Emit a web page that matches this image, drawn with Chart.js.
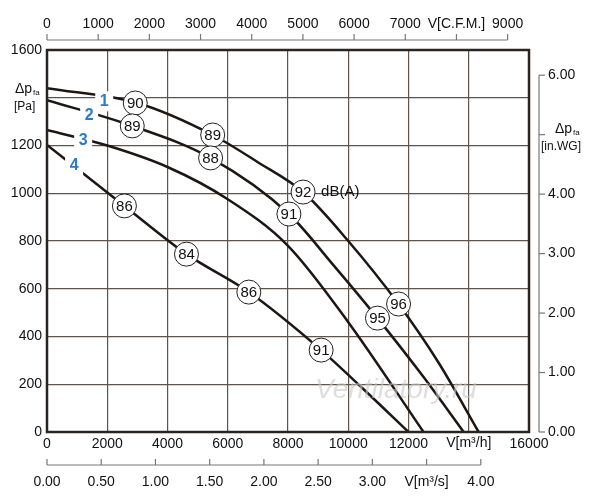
<!DOCTYPE html>
<html><head><meta charset="utf-8">
<script src="https://cdn.jsdelivr.net/npm/chart.js@4"></script>
<style>body{margin:0;background:#fff}#w{width:600px;height:500px}</style>
</head><body><div id="w"><canvas id="c"></canvas></div>
<script>
const curve1 = [[0,1440],[3000,1378],[5500,1244],[7000,1130],[8500,1005],[10000,800],[11670,536],[13000,290],[14330,0]];
const curve2 = [[0,1390],[2830,1282],[5430,1148],[8030,913],[9500,700],[10970,477],[12500,230],[13830,0]];
const curve3 = [[0,1265],[2000,1200],[4000,1110],[6000,975],[8000,780],[10000,460],[12500,0]];
const curve4 = [[0,1202],[2570,947],[4630,745],[6700,586],[9100,343],[10500,180],[12000,0]];
const curveNames = ['1','2','3','4'];
const curveNamePos = [[1900,1385],[1400,1325],[1200,1220],[900,1115]];
const dbLabels = [[2930,1378,'90'],[5500,1244,'89'],[8500,1005,'92'],[11670,536,'96'],
  [2830,1282,'89'],[5430,1148,'88'],[8030,913,'91'],[10970,477,'95'],
  [2570,947,'86'],[4630,745,'84'],[6700,586,'86'],[9100,343,'91']];
const cfmTicks = [0,1000,2000,3000,4000,5000,6000,7000,8000,9000];
const cfmLabels = ['0','1000','2000','3000','4000','5000','6000','7000','V[C.F.M.]','9000'];
const m3sTicks = [0,0.5,1,1.5,2,2.5,3,3.5,4];
const m3sLabels = ['0.00','0.50','1.00','1.50','2.00','2.50','3.00','V[m³/s]','4.00'];
const inwgTicks = [0,1,2,3,4,5,6];
const inwgLabels = ['0.00','1.00','2.00','3.00','4.00','','6.00'];
const toPts = a => a.map(p=>({x:p[0],y:p[1]}));
const F = 'Liberation Sans, Arial, sans-serif';
const deco = {
  id:'deco',
  afterDatasetsDraw(ch){
    const c=ch.ctx,x=ch.scales.x,y=ch.scales.y,a=ch.chartArea;
    c.save();
    c.font='bold 16px '+F;c.textAlign='center';c.textBaseline='middle';
    curveNames.forEach((n,i)=>{const px=x.getPixelForValue(curveNamePos[i][0]),py=y.getPixelForValue(curveNamePos[i][1]);
      c.fillStyle='#fff';c.fillRect(px-9,py-10,18,20);c.fillStyle='#2a7bc4';c.fillText(n,px,py);});
    c.font='15px '+F;
    dbLabels.forEach(d=>{const px=x.getPixelForValue(d[0]),py=y.getPixelForValue(d[1]);
      c.beginPath();c.arc(px,py,12,0,Math.PI*2);c.fillStyle='#fff';c.fill();c.lineWidth=1;c.strokeStyle='#222';c.stroke();
      c.fillStyle='#111';c.fillText(d[2],px,py+1);});
    c.textAlign='left';c.fillText('dB(A)',x.getPixelForValue(8500)+18,y.getPixelForValue(1005));
    c.strokeStyle='#2a2420';c.lineWidth=2.5;c.strokeRect(a.left,a.top,a.right-a.left,a.bottom-a.top);
    c.strokeStyle='#777';c.lineWidth=1.2;
    const ty=40,tx1=x.getPixelForValue(9000*1.699);
    c.beginPath();c.moveTo(a.left,ty);c.lineTo(tx1,ty);c.stroke();
    c.font='14px '+F;c.textAlign='center';c.textBaseline='middle';c.fillStyle='#111';
    cfmTicks.forEach((t,i)=>{const px=x.getPixelForValue(t*1.699);c.beginPath();c.moveTo(px,ty);c.lineTo(px,ty-6);c.stroke();c.fillText(cfmLabels[i],px,24);});
    const by=465,bx1=x.getPixelForValue(14400);
    c.beginPath();c.moveTo(a.left,by);c.lineTo(bx1,by);c.stroke();
    m3sTicks.forEach((t,i)=>{const px=x.getPixelForValue(t*3600);c.beginPath();c.moveTo(px,by);c.lineTo(px,by-6);c.stroke();c.fillText(m3sLabels[i],px,482);});
    c.fillText('V[m³/h]',x.getPixelForValue(14000),a.bottom+11);
    const rx=539;c.beginPath();c.moveTo(rx,y.getPixelForValue(6*249.09));c.lineTo(rx,a.bottom);c.stroke();
    c.textAlign='left';
    inwgTicks.forEach((t,i)=>{const py=y.getPixelForValue(t*249.09);c.beginPath();c.moveTo(rx,py);c.lineTo(rx+6,py);c.stroke();if(inwgLabels[i])c.fillText(inwgLabels[i],rx+9,py);});
    c.textAlign='left';c.font='14px '+F;c.fillText('Δp',555,129);c.font='8px '+F;c.fillText('fa',573,133);
    c.font='12px '+F;c.fillText('[in.WG]',541,147);
    c.font='14px '+F;c.fillText('Δp',15,89);c.font='8px '+F;c.fillText('fa',33,93);
    c.font='12px '+F;c.fillText('[Pa]',14,107);
    c.font='italic 28px '+F;c.fillStyle='rgba(200,200,200,0.6)';c.fillText('Ventilatory.ru',315,390);
    c.restore();
  }
};
const ds = [curve1,curve2,curve3,curve4].map(d=>({data:toPts(d),borderColor:'#1e1612',borderWidth:2.5,pointRadius:0,cubicInterpolationMode:'monotone',fill:false}));
new Chart(document.getElementById('c'),{
  type:'line',data:{datasets:ds},
  options:{animation:false,responsive:true,maintainAspectRatio:false,
    layout:{padding:{left:0,right:71,top:50,bottom:50}},
    plugins:{legend:{display:false},tooltip:{enabled:false}},
    scales:{
      x:{type:'linear',min:0,max:16000,grid:{color:'#5e544a',lineWidth:1.2,drawTicks:false},border:{display:false},afterFit(s){s.height=18;},
        ticks:{stepSize:2000,color:'#111',font:{size:14,family:F},padding:4,callback:v=>v===14000?'':v}},
      y:{min:0,max:1600,grid:{color:'#5e544a',lineWidth:1.2,drawTicks:false},border:{display:false},afterFit(s){s.width=47;},
        ticks:{stepSize:200,color:'#111',font:{size:14,family:F},padding:5,callback:v=>(v===1400?'':v)}}
    }},
  plugins:[deco]
});
</script></body></html>
